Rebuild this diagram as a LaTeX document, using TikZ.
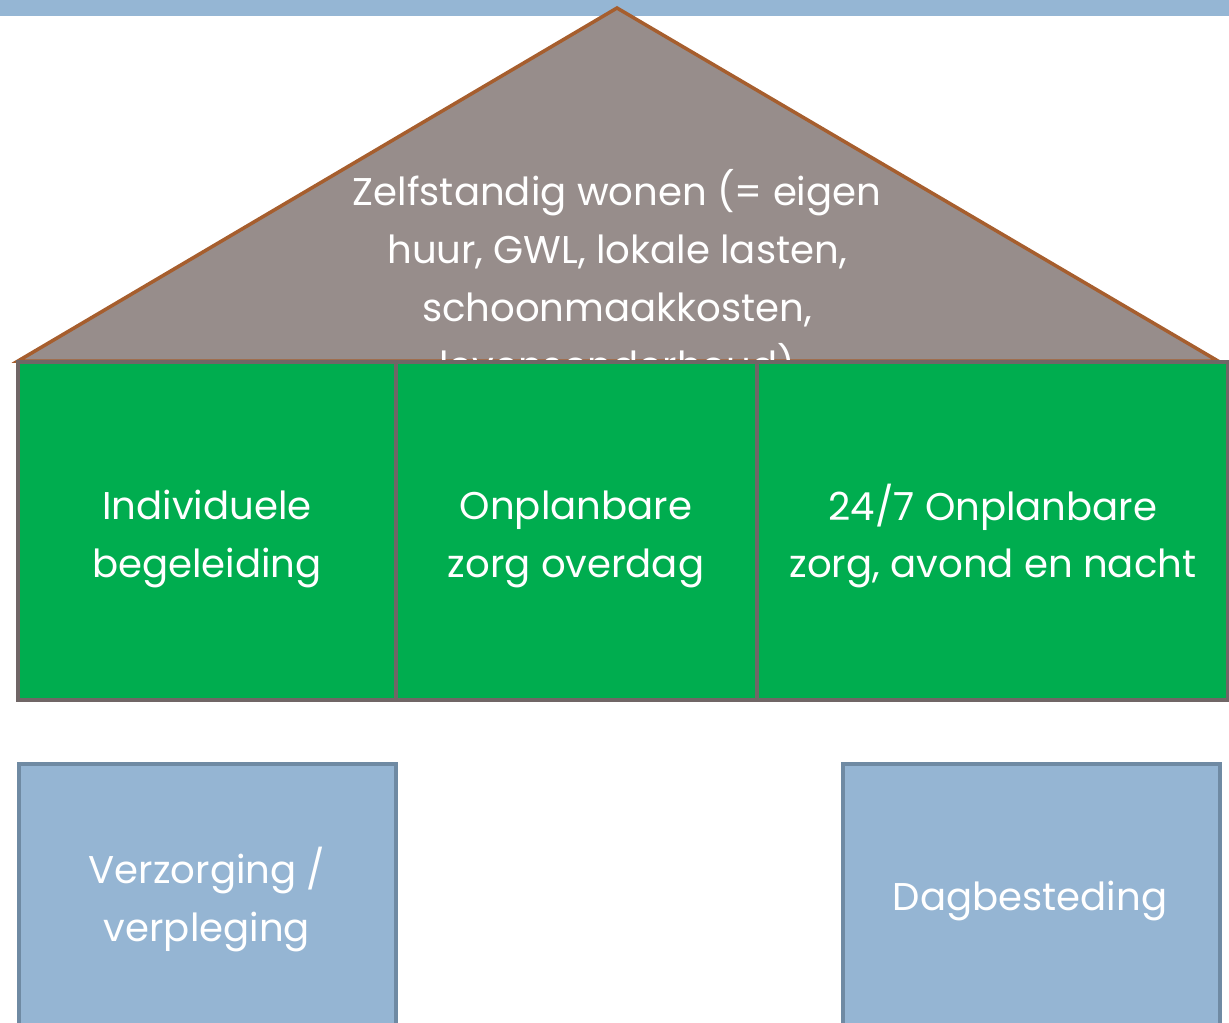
\documentclass[tikz,border=0pt]{standalone}
\usepackage{fontspec}
\setmainfont{Poppins}
\definecolor{bandblue}{HTML}{95B6D4}
\definecolor{roof}{HTML}{978D8B}
\definecolor{roofline}{HTML}{A65E2E}
\definecolor{grn}{HTML}{00AD4F}
\definecolor{grnline}{HTML}{706666}
\definecolor{bluebox}{HTML}{95B5D3}
\definecolor{blueline}{HTML}{6F8AA3}
\tikzset{
  txt/.style={text=white,align=center,font=\fontsize{22}{33}\selectfont},
  greenbox/.style={draw=grnline,fill=grn,line width=2pt},
  bbox/.style={draw=blueline,fill=bluebox,line width=2pt},
}
\begin{document}
\begin{tikzpicture}[x=0.02cm,y=-0.02cm]
\useasboundingbox (0,0) rectangle (1229,1022);
\clip (0,0) rectangle (1229,1022);
\fill[bandblue] (0,0) rectangle (1229,16);
\coordinate (apex) at (617,8);
\coordinate (bl) at (18,361);
\coordinate (br) at (1218,361);
\draw[roofline,fill=roof,line width=2pt,line join=miter] (bl) -- (apex) -- (br) -- cycle;
\node[txt,anchor=north] (rooftxt) at (617,163) {Zelfstandig wonen (= eigen\\huur, GWL, lokale lasten,\\schoonmaakkosten,\\levensonderhoud)};
\draw[greenbox] (18,362) rectangle (396,700);
\draw[greenbox] (396,362) rectangle (757,700);
\draw[greenbox] (757,362) rectangle (1228,700);
\node[txt] (g1) at (207,539) {Individuele\\begeleiding};
\node[txt] (g2) at (576,539) {Onplanbare\\zorg overdag};
\node[txt] (g3) at (993,536) {24/7 Onplanbare\\zorg, avond en nacht};
\draw[bbox] (19,764) rectangle (396,1040);
\draw[bbox] (843,764) rectangle (1220,1040);
\node[txt] (b1) at (207,899) {Verzorging /\\verpleging};
\node[txt] (b2) at (1030,901) {Dagbesteding};
\end{tikzpicture}
\end{document}
